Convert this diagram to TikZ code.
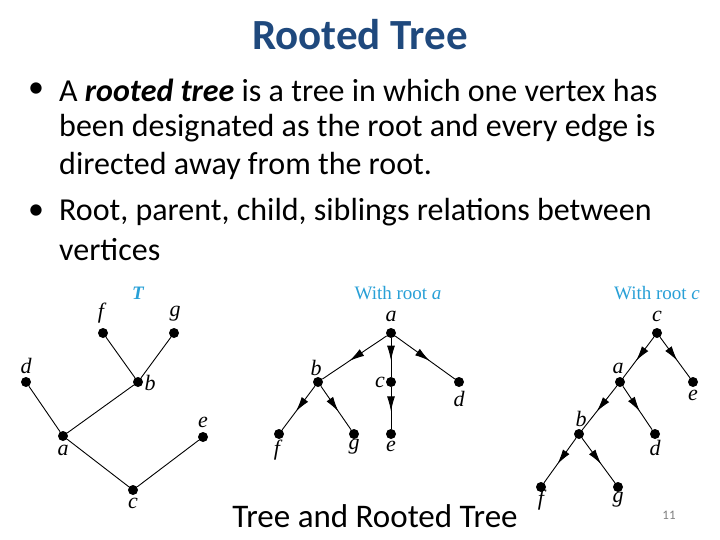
\documentclass[tikz,border=0pt]{standalone}
\usepackage{fontspec}
\setmainfont{Carlito}
\newfontfamily\tms{Liberation Serif}
\usetikzlibrary{decorations.markings,arrows.meta}
\definecolor{ttl}{RGB}{31,73,125}
\definecolor{cy}{RGB}{40,160,215}
\tikzset{
 v/.style={circle,fill=black,inner sep=0pt,minimum size=10pt},
 lb/.style={font=\tms\itshape\fontsize{22}{22}\selectfont,inner sep=0pt},
 hd/.style={font=\tms\fontsize{19}{19}\selectfont,text=cy,inner sep=0pt},
 ed/.style={line width=0.9pt},
 ar/.style={line width=0.9pt,postaction={decorate},decoration={markings,mark=at position 0.58 with {\arrow{Latex[length=15pt,width=8pt]}}}},
 bl/.style={font=\fontsize{32}{38}\selectfont,anchor=west,inner sep=0pt}
}
\begin{document}
\begin{tikzpicture}[x=1pt,y=-1pt]
\useasboundingbox[fill=white] (0,0) rectangle (720,540);
\node[font=\bfseries\fontsize{43}{43}\selectfont,text=ttl] (title) at (360,35) {Rooted Tree};
\node[bl] (b1) at (28,90) {•};
\node[bl] (t1) at (59,90) {A \textbf{\textit{rooted tree}} is a tree in which one vertex has};
\node[bl] (t2) at (59,128) {been designated as the root and every edge is};
\node[bl] (t3) at (59,166) {directed away from the root.};
\node[bl] (b2) at (28,212) {•};
\node[bl] (t4) at (59,212) {Root, parent, child, siblings relations between};
\node[bl] (t5) at (59,250) {vertices};
% Tree T
\node[hd,font=\tms\itshape\bfseries\fontsize{19}{19}\selectfont] (hT) at (138,293) {T};
\node[v] (Tf) at (103,333) {}; \node[lb] (lTf) at (101,313) {f};
\node[v] (Tg) at (174,333) {}; \node[lb] (lTg) at (175,314) {g};
\node[v] (Td) at (26,382) {}; \node[lb] (lTd) at (26,366) {d};
\node[v] (Tb) at (138,382) {}; \node[lb] (lTb) at (150,383) {b};
\node[v] (Ta) at (63,436) {}; \node[lb] (lTa) at (63,450) {a};
\node[v] (Te) at (203,437) {}; \node[lb] (lTe) at (203,422) {e};
\node[v] (Tc) at (133,490) {}; \node[lb] (lTc) at (133,503) {c};
\draw[ed] (Tf)--(Tb) (Tg)--(Tb) (Tb)--(Ta) (Td)--(Ta) (Ta)--(Tc) (Te)--(Tc);
% root a
\node[hd] (hA) at (398,293) {With root \textit{a}};
\node[v] (Aa) at (391,333) {}; \node[lb] (lAa) at (391,316) {a};
\node[v] (Ab) at (318,382) {}; \node[lb] (lAb) at (316,368) {b};
\node[v] (Ac) at (391,382) {}; \node[lb] (lAc) at (380,382) {c};
\node[v] (Ad) at (459,382) {}; \node[lb] (lAd) at (459,399) {d};
\node[v] (Af) at (279,434) {}; \node[lb] (lAf) at (277,450) {f};
\node[v] (Ag) at (354,434) {}; \node[lb] (lAg) at (354,447) {g};
\node[v] (Ae) at (391,434) {}; \node[lb] (lAe) at (391,446) {e};
\draw[ar] (Aa)--(Ab); \draw[ar] (Aa)--(Ac); \draw[ar] (Aa)--(Ad);
\draw[ar] (Ab)--(Af); \draw[ar] (Ab)--(Ag); \draw[ar] (Ac)--(Ae);
% root c
\node[hd] (hC) at (657,293) {With root \textit{c}};
\node[v] (Cc) at (657,333) {}; \node[lb] (lCc) at (657,316) {c};
\node[v] (Ca) at (620,382) {}; \node[lb] (lCa) at (618,368) {a};
\node[v] (Ce) at (693,382) {}; \node[lb] (lCe) at (693,395) {e};
\node[v] (Cb) at (579,434) {}; \node[lb] (lCb) at (581,419) {b};
\node[v] (Cd) at (655,434) {}; \node[lb] (lCd) at (655,448) {d};
\node[v] (Cf) at (541,487) {}; \node[lb] (lCf) at (541,500) {f};
\node[v] (Cg) at (618,487) {}; \node[lb] (lCg) at (618,500) {g};
\draw[ar] (Cc)--(Ca); \draw[ar] (Cc)--(Ce); \draw[ar] (Ca)--(Cb);
\draw[ar] (Ca)--(Cd); \draw[ar] (Cb)--(Cf); \draw[ar] (Cb)--(Cg);
\node[font=\fontsize{33}{33}\selectfont] (cap) at (375,516) {Tree and Rooted Tree};
\node[font=\fontsize{13}{13}\selectfont,text=gray] (pg) at (669,515) {11};
\end{tikzpicture}
\end{document}
